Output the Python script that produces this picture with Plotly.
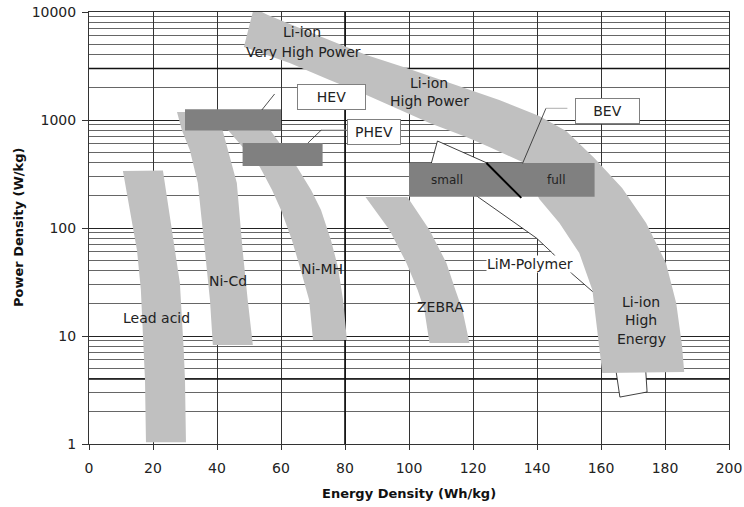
import math
import plotly.graph_objects as go

# ---------------- data (Energy density Wh/kg, Power density W/kg) ----------------
lead_acid_x = [10.6, 12.8, 15.0, 16.2, 16.8, 17.5, 17.8, 30.3, 30.0, 29.6, 28.4, 25.3, 23.1]
lead_acid_y = [337, 147, 62, 27, 10.2, 3.9, 1.04, 1.04, 3.9, 7.4, 31, 126, 340]

nicd_x = [27.5, 29.0, 31.5, 34.0, 36.2, 37.8, 38.7, 51.2, 49.6, 48.0, 46.2, 43.4, 41.8, 40.2]
nicd_y = [1186, 808, 528, 261, 62.5, 21.5, 8.26, 8.26, 21.5, 62.5, 261, 528, 808, 1186]

nimh_x = [40.9, 43.4, 53.4, 57.2, 60.0, 63.4, 65.9, 68.8, 70.0,
          80.6, 79.4, 77.8, 75.6, 72.5, 69.4, 65.0, 56.6, 54.1]
nimh_y = [1044, 808, 367, 225, 147, 77.4, 43.5, 21.5, 9.18,
          9.18, 21.5, 43.5, 77.4, 147, 225, 367, 808, 1044]

zebra_x = [86.4, 93.9, 99.2, 102.7, 104.8, 106.4, 118.9, 116.7, 114.5, 111.7, 106.4, 99.5]
zebra_y = [194, 95.8, 47.4, 26.7, 17.4, 8.61, 8.61, 17.4, 26.7, 47.4, 95.8, 194]

liion_x = [51.5, 55.9, 65.8, 86.7, 99.2, 115.8, 128.2, 140.7, 149.1, 157.9, 166.6, 174.1,
           180.3, 183.5, 185.3, 186.0, 160.4, 158.8, 157.3, 153.2, 147.0, 140.7, 135.4,
           125.1, 117.9, 106.4, 97.0, 86.7, 75.2, 62.7, 48.4]
liion_y = [10890, 9380, 7110, 4000, 3030, 2065, 1532, 1089, 791, 445, 235, 111,
           47.4, 20.2, 8.26, 4.64, 4.54, 11.4, 26.7, 58.7, 111, 186, 408,
           562, 696, 938, 1238, 1704, 2345, 3373, 4745]

lim_x = [107.0, 108.9, 125.1, 137.6, 141.5, 149.5, 155.1, 157.9, 150.7, 144.8, 139.8, 122.0]
lim_y = [400, 639, 391, 225, 190, 111, 58.7, 25.0, 38.3, 58.7, 80.8, 190]

tail_x = [164.5, 165.9, 174.4, 173.9]
tail_y = [5.2, 2.72, 3.03, 5.2]

hev_box_x = [30, 60]
hev_box_y = [800, 1260]
phev_box_x = [48, 73]
phev_box_y = [375, 612]
bev_box_x = [100, 158]
bev_box_y = [195, 400]

bev_split_x = [124.2, 135.1]
bev_split_y = [400, 190]

hev_lead_x = [54.0, 58.0]
hev_lead_y = [1238, 1741]
phev_lead_x = [68.4, 72.6]
phev_lead_y = [612, 808]
phev_lead_h_x = [72.6, 80.5]
phev_lead_h_y = [808, 808]
bev_lead_x = [135.5, 142.8]
bev_lead_y = [397, 1283]
bev_lead_h_x = [142.8, 149.5]
bev_lead_h_y = [1283, 1283]

heavy_h_vals = [3000, 4]
heavy_v_vals = [80]

box_labels = ["HEV", "PHEV", "BEV"]
box_label_x = [75.7, 89.2, 162.1]
box_label_y = [1650, 775, 1210]
box_label_w = [67, 52, 63]

text_labels = ["Li-ion", "Very High Power", "Li-ion", "High Power", "small", "full",
               "Lead acid", "Ni-Cd", "Ni-MH", "ZEBRA", "Li-ion", "High", "Energy"]
text_x = [66.5, 67.1, 106.4, 106.4, 112.0, 146.0, 21.2, 43.4, 72.7, 109.8, 172.5, 172.5, 172.5]
text_y = [6530, 4265, 2202, 1500, 278, 278, 14.7, 32.3, 41.7, 18.6, 20.6, 14.1, 9.38]
text_size = [14, 14, 14, 14, 12, 12, 14, 14, 14, 14, 14, 14, 14]

lim_label = "LiM-Polymer"
lim_label_x = 137.9
lim_label_y = 46.4

x_ticks = list(range(0, 201, 20))
y_ticks = [1, 10, 100, 1000, 10000]
y_minor = [m * 10 ** k for k in range(0, 4) for m in range(2, 10)]

LIGHT = "#c0c0c0"
DARK = "#808080"

fig = go.Figure()


def poly(xs, ys, fill, line_color=None, lw=0):
    fig.add_trace(go.Scatter(
        x=list(xs) + [xs[0]], y=list(ys) + [ys[0]], mode="lines", fill="toself",
        fillcolor=fill, line=dict(color=line_color or fill, width=lw),
        hoverinfo="skip", showlegend=False))


def rect(bx, by, fill):
    poly([bx[0], bx[1], bx[1], bx[0]], [by[0], by[0], by[1], by[1]], fill)


def line(xs, ys, color, w):
    fig.add_trace(go.Scatter(x=xs, y=ys, mode="lines", line=dict(color=color, width=w),
                             hoverinfo="skip", showlegend=False))


# heavier grid lines (under everything)
for v in heavy_h_vals:
    line([0, 200], [v, v], "#111", 1.6)
for v in heavy_v_vals:
    line([v, v], [1, 10000], "#111", 1.6)

# outlined white regions
poly(lim_x, lim_y, "white", "#111", 0.8)
poly(tail_x, tail_y, "white", "#111", 0.8)

# technology bands
poly(lead_acid_x, lead_acid_y, LIGHT)
poly(nicd_x, nicd_y, LIGHT)
poly(nimh_x, nimh_y, LIGHT)
poly(zebra_x, zebra_y, LIGHT)
poly(liion_x, liion_y, LIGHT)

# vehicle requirement boxes
rect(hev_box_x, hev_box_y, DARK)
rect(phev_box_x, phev_box_y, DARK)
rect(bev_box_x, bev_box_y, DARK)
line(bev_split_x, bev_split_y, "#000", 2)

# leaders
line(hev_lead_x, hev_lead_y, "#222", 0.8)
line(phev_lead_x, phev_lead_y, "#222", 0.8)
line(phev_lead_h_x, phev_lead_h_y, "#999", 0.8)
line(bev_lead_x, bev_lead_y, "#222", 0.8)
line(bev_lead_h_x, bev_lead_h_y, "#999", 0.8)

annotations = []
for t, x, y, w in zip(box_labels, box_label_x, box_label_y, box_label_w):
    annotations.append(dict(text=t, x=x, y=math.log10(y), xref="x", yref="y", showarrow=False,
                            width=w, height=24, bgcolor="white", bordercolor="#808080",
                            borderwidth=1, borderpad=0,
                            font=dict(family="DejaVu Sans", size=14, color="#222")))
for t, x, y, s in zip(text_labels, text_x, text_y, text_size):
    annotations.append(dict(text=t, x=x, y=math.log10(y), xref="x", yref="y", showarrow=False,
                            font=dict(family="DejaVu Sans", size=s, color="#222")))
annotations.append(dict(text=lim_label, x=lim_label_x, y=math.log10(lim_label_y), xref="x", yref="y",
                        showarrow=False, bgcolor="white", borderpad=0,
                        font=dict(family="DejaVu Sans", size=14, color="#222")))
annotations.append(dict(text="<b>Power Density (W/kg)</b>", x=0, y=0.5, xref="paper", yref="paper",
                        xanchor="center", yanchor="middle", xshift=-71, textangle=-90, showarrow=False,
                        font=dict(family="DejaVu Sans", size=13, color="#111")))
annotations.append(dict(text="<b>Energy Density (Wh/kg)</b>", x=0.5, y=0, xref="paper", yref="paper",
                        xanchor="center", yanchor="middle", yshift=-49, showarrow=False,
                        font=dict(family="DejaVu Sans", size=13, color="#111")))

fig.update_layout(
    width=744, height=507,
    margin=dict(l=89, r=15, t=12, b=63, autoexpand=False),
    paper_bgcolor="white", plot_bgcolor="white",
    showlegend=False,
    font=dict(family="DejaVu Sans", size=14, color="#222"),
    annotations=annotations,
    xaxis=dict(range=[0, 200], tickvals=x_ticks, showgrid=True, gridcolor="#333", gridwidth=1,
               zeroline=False, showline=True, linecolor="#333", linewidth=1, mirror=True,
               ticks="outside", ticklen=5, tickcolor="#333", ticklabelstandoff=6, automargin=False,
               tickfont=dict(size=14, color="#222")),
    yaxis=dict(type="log", range=[0, 4], tickvals=y_ticks, ticktext=[str(v) for v in y_ticks],
               showgrid=True, gridcolor="#222", gridwidth=1.2, automargin=False,
               minor=dict(tickvals=y_minor, showgrid=True, gridcolor="#666", gridwidth=0.8, ticks=""),
               zeroline=False, showline=True, linecolor="#333", linewidth=1, mirror=True,
               ticks="outside", ticklen=6, tickcolor="#333", ticklabelstandoff=3,
               tickfont=dict(size=14, color="#222")),
)

fig.write_html("out.html")
